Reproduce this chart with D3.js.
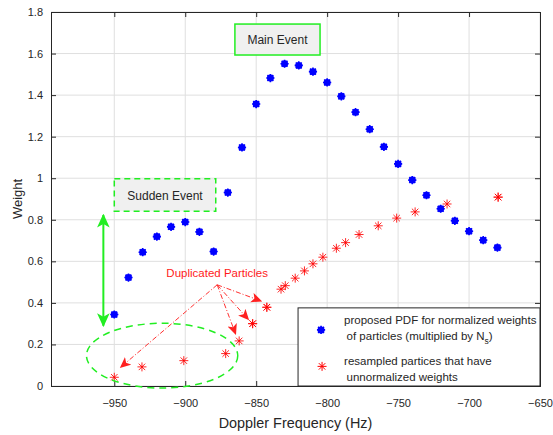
<!DOCTYPE html>
<html>
<head>
<meta charset="utf-8">
<script src="https://cdn.jsdelivr.net/npm/d3@7"></script>
<style>
  body { margin: 0; background: #fff; }
  svg text { font-family: "Liberation Sans", Arial, sans-serif; fill: #262626; }
</style>
</head>
<body>
<div id="chart"></div>
<script>
// Doppler frequency (Hz) of the proposed PDF points
var pdfFreq = [-950, -940, -930, -920, -910, -900, -890, -880, -870, -860,
  -850, -840, -830, -820, -810, -800, -790, -780, -770, -760,
  -750, -740, -730, -720, -710, -700, -690, -680];
var pdfWeight = [0.344, 0.522, 0.644, 0.719, 0.766, 0.789, 0.742, 0.647, 0.931, 1.148,
  1.357, 1.482, 1.551, 1.543, 1.513, 1.461, 1.394, 1.318, 1.236, 1.151,
  1.069, 0.991, 0.918, 0.853, 0.795, 0.745, 0.702, 0.666];

// resampled particles (some duplicated)
var partFreq = [-950, -930.5, -901, -871.5, -862, -852.5, -852.5, -842.5, -842.5, -832.5,
  -829.5, -822.5, -816, -810, -803, -793.5, -787, -777.5, -764, -751,
  -738, -715.5, -679.5, -679.5];
var partWeight = [0.042, 0.092, 0.122, 0.156, 0.217, 0.300, 0.300, 0.379, 0.379, 0.466,
  0.483, 0.519, 0.554, 0.588, 0.620, 0.663, 0.690, 0.729, 0.771, 0.808,
  0.838, 0.876, 0.909, 0.909];

var xTicks = [-950, -900, -850, -800, -750, -700, -650];
var yTicks = [0, 0.2, 0.4, 0.6, 0.8, 1, 1.2, 1.4, 1.6, 1.8];

var svgWidth = 553;
var svgHeight = 435;
var margin = { top: 12, right: 13, bottom: 49, left: 51 };
var width = svgWidth - margin.left - margin.right;
var height = svgHeight - margin.top - margin.bottom;

var svg = d3.select("#chart").append("svg")
  .attr("width", svgWidth)
  .attr("height", svgHeight);

var chartGroup = svg.append("g")
  .attr("transform", `translate(${margin.left}, ${margin.top})`);

var x = d3.scaleLinear().domain([-994.6, -650]).range([0, width]);
var y = d3.scaleLinear().domain([0, 1.8]).range([height, 0]);

// grid
chartGroup.append("g").selectAll("line").data(xTicks).enter().append("line")
  .attr("x1", d => x(d)).attr("x2", d => x(d))
  .attr("y1", 0).attr("y2", height)
  .attr("stroke", "#dfdfdf").attr("stroke-width", 1);
chartGroup.append("g").selectAll("line").data(yTicks).enter().append("line")
  .attr("x1", 0).attr("x2", width)
  .attr("y1", d => y(d)).attr("y2", d => y(d))
  .attr("stroke", "#dfdfdf").attr("stroke-width", 1);

// axes (box style, ticks inside)
var minusFmt = d => String(d).replace("-", "\u2212");
var bottomAxis = d3.axisBottom(x).tickValues(xTicks).tickSize(-5).tickPadding(13).tickFormat(minusFmt);
var topAxis = d3.axisTop(x).tickValues(xTicks).tickSize(-5).tickFormat("");
var leftAxis = d3.axisLeft(y).tickValues(yTicks).tickSize(-5).tickPadding(8).tickFormat(d => d);
var rightAxis = d3.axisRight(y).tickValues(yTicks).tickSize(-5).tickFormat("");

function styleAxis(g) {
  g.select(".domain").attr("stroke", "#262626");
  g.selectAll(".tick line").attr("stroke", "#262626");
  g.selectAll("text").attr("font-size", 11).attr("fill", "#262626")
    .attr("font-family", "Liberation Sans, Arial, sans-serif");
}

chartGroup.append("g").attr("transform", `translate(0, ${height})`).call(bottomAxis).call(styleAxis);
chartGroup.append("g").call(topAxis).call(styleAxis);
chartGroup.append("g").call(leftAxis).call(styleAxis);
chartGroup.append("g").attr("transform", `translate(${width}, 0)`).call(rightAxis).call(styleAxis);

// axis labels
chartGroup.append("text")
  .attr("x", width / 2).attr("y", height + 42)
  .attr("text-anchor", "middle").attr("font-size", 14.4)
  .text("Doppler Frequency (Hz)");
chartGroup.append("text")
  .attr("transform", "rotate(-90)")
  .attr("x", -(y(0.9))).attr("y", -29.5)
  .attr("text-anchor", "middle").attr("font-size", 13)
  .text("Weight");

// asterisk path (MATLAB '*')
function asterisk(r) {
  var d = `M${-r},0L${r},0M0,${-r}L0,${r}`;
  var a = r * 0.72;
  d += `M${-a},${-a}L${a},${a}M${-a},${a}L${a},${-a}`;
  return d;
}

function blueMarker(g) {
  g.append("circle").attr("r", 3.5).attr("fill", "#0000ff");
  g.append("path").attr("d", asterisk(4.1)).attr("stroke", "#0000ff").attr("stroke-width", 1.6);
}
function redMarker(g) {
  g.append("path").attr("d", asterisk(4.5)).attr("stroke", "#ff0000")
    .attr("stroke-width", 1).attr("fill", "none");
}

var pdfData = pdfFreq.map((f, i) => ({ f: f, w: pdfWeight[i] }));
var partData = partFreq.map((f, i) => ({ f: f, w: partWeight[i] }));

chartGroup.append("g").selectAll("g").data(pdfData).enter().append("g")
  .attr("transform", d => `translate(${x(d.f)}, ${y(d.w)})`)
  .each(function() { blueMarker(d3.select(this)); });

chartGroup.append("g").selectAll("g").data(partData).enter().append("g")
  .attr("transform", d => `translate(${x(d.f)}, ${y(d.w)})`)
  .attr("opacity", 0.85)
  .each(function() { redMarker(d3.select(this)); });

// annotations
var green = "#22ee22";

// Main Event box
chartGroup.append("rect")
  .attr("x", x(-865)).attr("y", y(1.742))
  .attr("width", x(-805) - x(-865)).attr("height", y(1.593) - y(1.742))
  .attr("fill", "#f0f0f0").attr("stroke", green).attr("stroke-width", 1.5);
chartGroup.append("text")
  .attr("x", (x(-865) + x(-805)) / 2).attr("y", y(1.667) + 4.5)
  .attr("text-anchor", "middle").attr("font-size", 12)
  .text("Main Event");

// Sudden Event box
chartGroup.append("rect")
  .attr("x", x(-950)).attr("y", y(0.997))
  .attr("width", x(-878.5) - x(-950)).attr("height", y(0.841) - y(0.997))
  .attr("fill", "#f0f0f0").attr("stroke", green).attr("stroke-width", 1.5)
  .attr("stroke-dasharray", "6,4");
chartGroup.append("text")
  .attr("x", (x(-950) + x(-878.5)) / 2).attr("y", y(0.919) + 4.5)
  .attr("text-anchor", "middle").attr("font-size", 12)
  .text("Sudden Event");

// markers for arrows
var defs = svg.append("defs");
function arrowMarker(id, color, size) {
  defs.append("marker")
    .attr("id", id).attr("viewBox", "0 -5 10 10")
    .attr("refX", 9).attr("refY", 0)
    .attr("markerWidth", size).attr("markerHeight", size)
    .attr("markerUnits", "userSpaceOnUse")
    .attr("orient", "auto-start-reverse")
    .append("path").attr("d", "M0,-4.5L10,0L0,4.5L2.5,0Z").attr("fill", color);
}
arrowMarker("greenHead", green, 14);
arrowMarker("redHead", "#ff2020", 11);

// double arrow
chartGroup.append("line")
  .attr("x1", x(-957.7)).attr("x2", x(-957.7))
  .attr("y1", y(0.29)).attr("y2", y(0.823))
  .attr("stroke", green).attr("stroke-width", 2)
  .attr("marker-start", "url(#greenHead)").attr("marker-end", "url(#greenHead)");

// dashed ellipse
chartGroup.append("ellipse")
  .attr("cx", x(-916.3)).attr("cy", y(0.146))
  .attr("rx", x(-863) - x(-916.3)).attr("ry", y(0) - y(0.156))
  .attr("fill", "none").attr("stroke", green).attr("stroke-width", 1.5)
  .attr("stroke-dasharray", "7,5");

// Duplicated Particles
var arrowFrom = { f: -877.5, w: 0.487 };
var arrowTo = [
  { f: -945.5, w: 0.09 },
  { f: -864.5, w: 0.25 },
  { f: -855.5, w: 0.32 },
  { f: -846.5, w: 0.409 }
];
chartGroup.append("g").selectAll("line").data(arrowTo).enter().append("line")
  .attr("x1", x(arrowFrom.f)).attr("y1", y(arrowFrom.w))
  .attr("x2", d => x(d.f)).attr("y2", d => y(d.w))
  .attr("stroke", "#ff3030").attr("stroke-width", 1)
  .attr("stroke-dasharray", "5,2,1,2")
  .attr("marker-end", "url(#redHead)");
chartGroup.append("text")
  .attr("x", x(-877.5)).attr("y", y(0.525))
  .attr("text-anchor", "middle").attr("font-size", 11.5)
  .style("fill", "#ff1a1a")
  .text("Duplicated Particles");

// legend
var legend = chartGroup.append("g")
  .attr("transform", `translate(${x(-820.5)}, ${y(0.376)})`);
legend.append("rect")
  .attr("width", x(-650) - x(-820.5)).attr("height", y(0) - y(0.376))
  .attr("fill", "#fff").attr("stroke", "#262626").attr("stroke-width", 1);
var lg1 = legend.append("g").attr("transform", "translate(23, 22)");
blueMarker(lg1);
var lg2 = legend.append("g").attr("transform", "translate(24, 58.5)");
redMarker(lg2);
legend.append("text").attr("x", 46).attr("y", 16).attr("font-size", 11.5)
  .text("proposed PDF for normalized weights");
var t2 = legend.append("text").attr("x", 48.5).attr("y", 32).attr("font-size", 11.5)
  .text("of particles (multiplied by N");
t2.append("tspan").attr("dy", 4).attr("font-size", 8.5).text("s");
t2.append("tspan").attr("dy", -4).text(")");
legend.append("text").attr("x", 46).attr("y", 57).attr("font-size", 11.5)
  .text("resampled partices that have");
legend.append("text").attr("x", 48.5).attr("y", 73).attr("font-size", 11.5)
  .text("unnormalized weights");
</script>
</body>
</html>
